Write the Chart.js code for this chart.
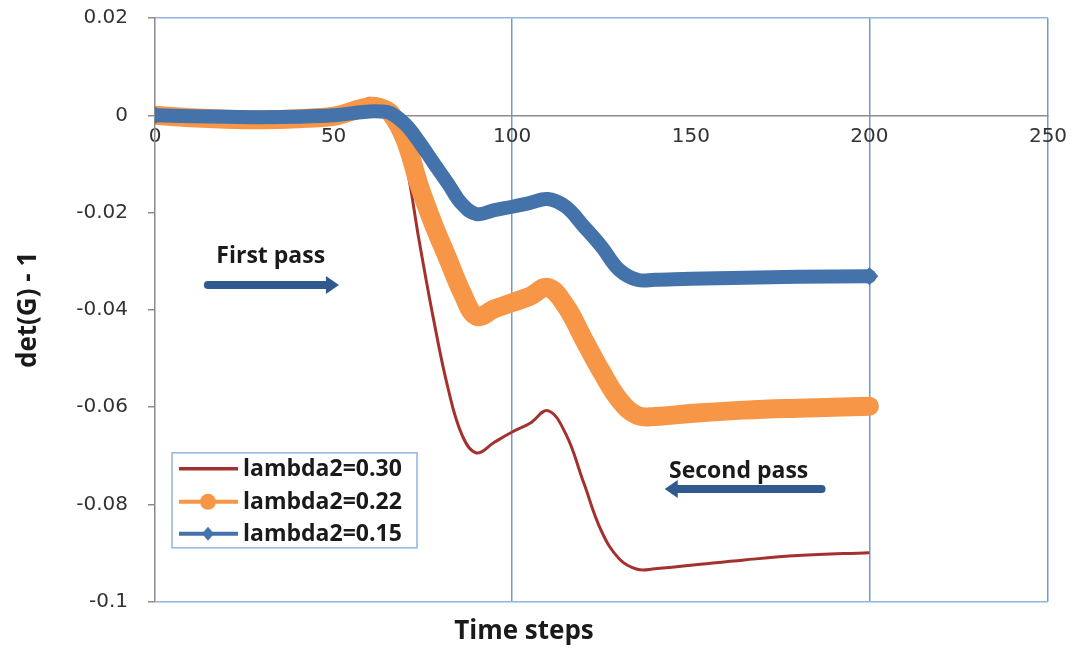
<!DOCTYPE html>
<html>
<head>
<meta charset="utf-8">
<script src="https://cdn.jsdelivr.net/npm/chart.js@4.4.0/dist/chart.umd.min.js"></script>
<style>
  html, body { margin: 0; padding: 0; background: #fff; }
  #chart1 { display: block; }
</style>
</head>
<body>
<canvas id="chart1" width="1078" height="656"></canvas>
<script>
// time steps shared by all three runs
const steps = [0, 10, 20, 30, 40, 50, 55, 60, 63, 66, 70, 74, 78, 82, 86, 90, 95, 100, 105, 110,
  115, 120, 125, 130, 135, 140, 150, 165, 180, 200];

const lambda030 = [0, -0.0003, -0.0005, -0.0006, -0.0004, 0, 0.0012, 0.0035, 0.0025, 0.0005, -0.009,
  -0.026, -0.042, -0.056, -0.0658, -0.0694, -0.0672, -0.0651, -0.0633, -0.0607,
  -0.0655, -0.0755, -0.0855, -0.0912, -0.0933, -0.0932, -0.0925, -0.0914, -0.0905, -0.0899];

const lambda022 = [0, -0.0005, -0.0008, -0.0009, -0.0007, -0.0002, 0.0008, 0.0018, 0.0016, 0.0004, -0.005,
  -0.0145, -0.0225, -0.0295, -0.0365, -0.0413, -0.0398, -0.0385, -0.0372, -0.0354,
  -0.0392, -0.046, -0.0527, -0.0585, -0.0617, -0.0619, -0.0613, -0.0606, -0.0602, -0.0598];

const lambda015 = [0, -0.0002, -0.0003, -0.0004, -0.0003, 0, 0.0004, 0.0008, 0.0008, 0.0004, -0.0018,
  -0.0055, -0.0098, -0.014, -0.0183, -0.0203, -0.0195, -0.0188, -0.018, -0.0172,
  -0.0188, -0.0228, -0.027, -0.0318, -0.0338, -0.0338, -0.0336, -0.0334, -0.0332, -0.0331];

const seriesLabels = ['lambda2=0.30', 'lambda2=0.22', 'lambda2=0.15'];
const xTicks = [0, 50, 100, 150, 200, 250];
const yTicks = [0.02, 0, -0.02, -0.04, -0.06, -0.08, -0.1];

const RED = '#a3322e';
const ORANGE = '#f79646';
const BLUE = '#4472aa';
const ARROW = '#305a8e';
const FRAME = '#93b5e0';
const VLINE = '#6f9bd2';
const AXIS = '#8c8c8c';

function toPoints(values) {
  return steps.map((s, i) => ({ x: s, y: values[i] }));
}

function endsOnly(size) {
  return (c) => (c.dataIndex === 0 || c.dataIndex === steps.length - 1) ? size : 0;
}

// legend box drawn inside the plot, bottom-left
const boxLegend = {
  id: 'boxLegend',
  afterDatasetsDraw(chart) {
    const { ctx, chartArea } = chart;
    const x0 = chartArea.left + 17, y0 = chartArea.bottom - 149;
    const w = 245, h = 95;
    ctx.save();
    ctx.fillStyle = '#fff';
    ctx.fillRect(x0, y0, w, h);
    ctx.strokeStyle = FRAME;
    ctx.lineWidth = 1.5;
    ctx.strokeRect(x0, y0, w, h);
    ctx.font = 'bold 23px "Open Sans"';
    ctx.textBaseline = 'middle';
    const rows = [16, 49, 81];
    chart.data.datasets.forEach((ds, i) => {
      const y = y0 + rows[i];
      ctx.strokeStyle = ds.borderColor;
      ctx.lineWidth = i === 0 ? 3.5 : 4;
      ctx.beginPath();
      ctx.moveTo(x0 + 7, y);
      ctx.lineTo(x0 + 66, y);
      ctx.stroke();
      ctx.fillStyle = ds.borderColor;
      if (i === 1) {
        ctx.beginPath();
        ctx.arc(x0 + 36, y, 8, 0, Math.PI * 2);
        ctx.fill();
      } else if (i === 2) {
        ctx.beginPath();
        ctx.moveTo(x0 + 36, y - 7);
        ctx.lineTo(x0 + 42, y);
        ctx.lineTo(x0 + 36, y + 7);
        ctx.lineTo(x0 + 30, y);
        ctx.closePath();
        ctx.fill();
      }
      ctx.fillStyle = '#1a1a1a';
      ctx.fillText(seriesLabels[i], x0 + 71, y + 1);
    });
    ctx.restore();
  }
};

// "First pass" / "Second pass" notes with their arrows, placed in data units
const passNotes = {
  id: 'passNotes',
  afterDatasetsDraw(chart) {
    const { ctx } = chart;
    const xs = chart.scales.x, ys = chart.scales.y;
    const arrow = (fromX, toX, yv) => {
      const x1 = xs.getPixelForValue(fromX), x2 = xs.getPixelForValue(toX);
      const y = ys.getPixelForValue(yv);
      const dir = Math.sign(x2 - x1);
      ctx.strokeStyle = ARROW;
      ctx.fillStyle = ARROW;
      ctx.lineWidth = 8;
      ctx.lineCap = 'round';
      ctx.beginPath();
      ctx.moveTo(x1, y);
      ctx.lineTo(x2 - dir * 10, y);
      ctx.stroke();
      ctx.beginPath();
      ctx.moveTo(x2, y);
      ctx.lineTo(x2 - dir * 13, y - 9);
      ctx.lineTo(x2 - dir * 13, y + 9);
      ctx.closePath();
      ctx.fill();
    };
    ctx.save();
    ctx.font = 'bold 23px "Open Sans"';
    ctx.textAlign = 'center';
    ctx.textBaseline = 'middle';
    ctx.fillStyle = '#1a1a1a';
    ctx.fillText('First pass', xs.getPixelForValue(32.4), ys.getPixelForValue(-0.0291));
    ctx.fillText('Second pass', xs.getPixelForValue(163.4), ys.getPixelForValue(-0.0733));
    arrow(14.8, 51.5, -0.0349);
    arrow(186.6, 142.7, -0.0768);
    ctx.restore();
  }
};

const ctx = document.getElementById('chart1');

const myChart1 = new Chart(ctx, {
  type: 'line',
  data: {
    datasets: [{
      label: seriesLabels[0],
      data: toPoints(lambda030),
      borderColor: RED,
      backgroundColor: RED,
      borderWidth: 3,
      pointRadius: 0,
      order: 3
    }, {
      label: seriesLabels[1],
      data: toPoints(lambda022),
      borderColor: ORANGE,
      backgroundColor: ORANGE,
      borderWidth: 19,
      borderCapStyle: 'round',
      borderJoinStyle: 'round',
      pointRadius: 0,
      order: 2
    }, {
      label: seriesLabels[2],
      data: toPoints(lambda015),
      borderColor: BLUE,
      backgroundColor: BLUE,
      borderWidth: 14,
      borderCapStyle: 'round',
      borderJoinStyle: 'round',
      pointStyle: 'rectRot',
      pointRadius: endsOnly(9),
      pointBorderWidth: 0,
      order: 1
    }]
  },
  options: {
    responsive: false,
    animation: false,
    devicePixelRatio: 1,
    elements: { line: { tension: 0.4 } },
    layout: { padding: { left: 0, right: 30, top: 18, bottom: 0 } },
    scales: {
      x: {
        type: 'linear',
        min: 0,
        max: 250,
        position: { y: 0 },
        afterBuildTicks: (s) => { s.ticks = xTicks.map(v => ({ value: v })); },
        afterFit: (s) => { s.height = 0; s.paddingTop = 0; s.paddingBottom = 0; },
        grid: {
          drawTicks: false,
          lineWidth: 1.5,
          color: (c) => [100, 200, 250].includes(c.tick && c.tick.value) ? VLINE : 'rgba(0,0,0,0)'
        },
        border: { color: AXIS, width: 1.5 },
        ticks: {
          padding: 9,
          maxRotation: 0,
          color: '#333',
          font: { family: '"DejaVu Sans"', size: 20 }
        }
      },
      y: {
        min: -0.1,
        max: 0.02,
        afterBuildTicks: (s) => { s.ticks = yTicks.map(v => ({ value: v })); },
        afterFit: (s) => { s.width = 155; s.paddingTop = 0; s.paddingBottom = 0; },
        grid: {
          tickLength: 7,
          tickColor: AXIS,
          lineWidth: 1.5,
          color: (c) => (c.tick && (c.tick.value === 0.02 || c.tick.value === -0.1)) ? FRAME : 'rgba(0,0,0,0)'
        },
        border: { color: AXIS, width: 1.5 },
        ticks: {
          padding: 20,
          color: '#333',
          font: { family: '"DejaVu Sans"', size: 20 },
          callback: (v) => String(Number(v.toFixed(2)))
        },
        title: {
          display: true,
          text: 'det(G) - 1',
          color: '#1a1a1a',
          font: { family: '"Open Sans"', size: 26, weight: 'bold' },
          padding: { top: 13, bottom: 0 }
        }
      }
    },
    plugins: {
      legend: { display: false },
      tooltip: { enabled: false },
      title: {
        display: true,
        position: 'bottom',
        text: 'Time steps',
        color: '#1a1a1a',
        font: { family: '"Open Sans"', size: 26, weight: 'bold' },
        padding: { top: 14, bottom: 9 }
      }
    }
  },
  plugins: [passNotes, boxLegend]
});
</script>
</body>
</html>
